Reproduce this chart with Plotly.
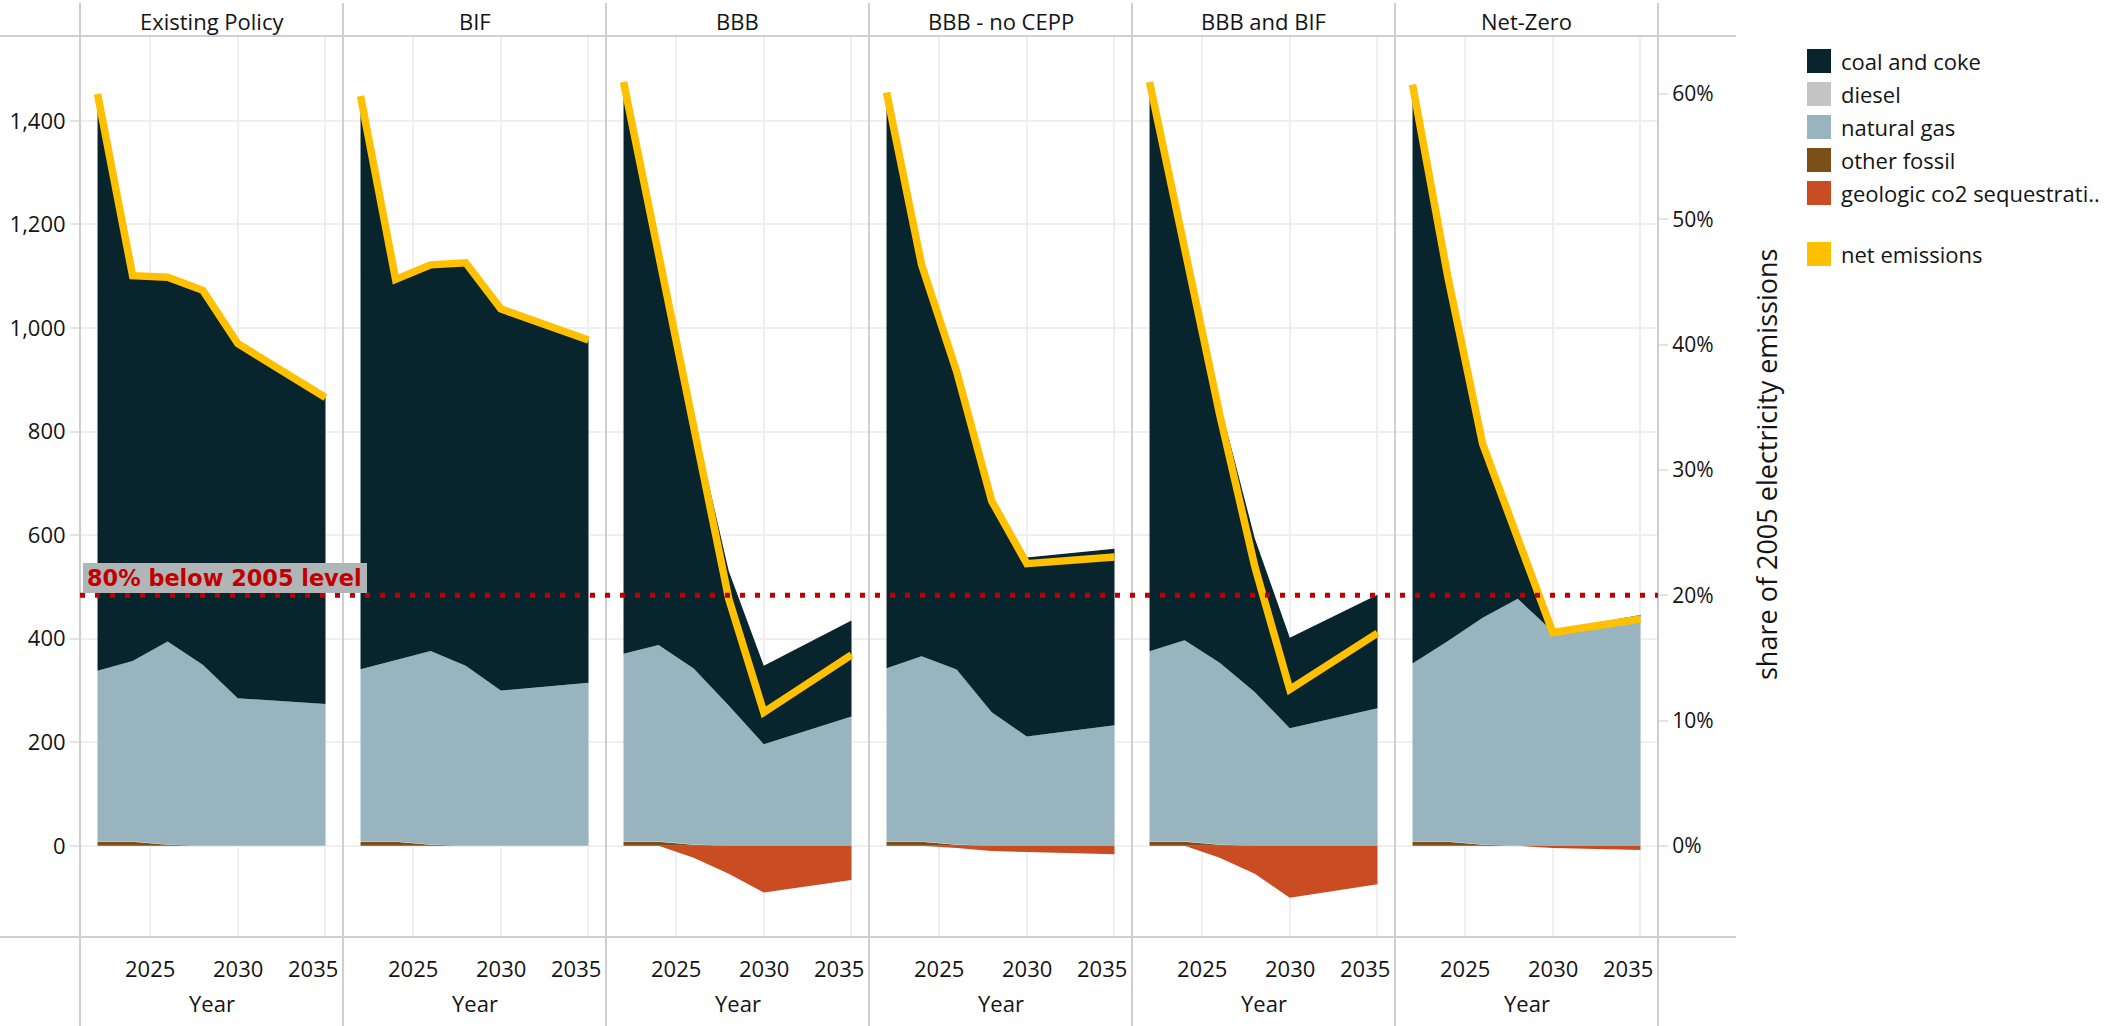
import plotly.graph_objects as go

# ---------------- data ----------------
years = [2022, 2024, 2026, 2028, 2030, 2035]
scenarios = ["Existing Policy", "BIF", "BBB", "BBB - no CEPP", "BBB and BIF", "Net-Zero"]

# electricity-sector CO2 emissions by fuel (million metric tons)
coal_and_coke = {
    "Existing Policy": [1114, 744, 703, 723, 685, 592],
    "BIF":             [1107, 735, 745, 778, 737, 662],
    "BBB":             [1104, 749, 482, 260, 152, 185],
    "BBB - no CEPP":   [1112, 756, 579, 418, 346, 341],
    "BBB and BIF":     [1099, 749, 502, 297, 175, 219],
    "Net-Zero":        [1118, 706, 335, 119, 2, 3],
}
diesel = {
    "Existing Policy": [1, 1, 0.5, 0, 0, 0],
    "BIF":             [1, 1, 0.5, 0, 0, 0],
    "BBB":             [1, 1, 0.5, 0, 0, 0],
    "BBB - no CEPP":   [1, 1, 0.5, 0, 0, 0],
    "BBB and BIF":     [1, 1, 0.5, 0, 0, 0],
    "Net-Zero":        [1, 1, 0.5, 0, 0, 0],
}
natural_gas = {
    "Existing Policy": [329, 348, 392, 350, 285, 274],
    "BIF":             [332, 350, 374, 348, 300, 315],
    "BBB":             [362, 379, 340, 271, 196, 250],
    "BBB - no CEPP":   [334, 357, 338, 258, 211, 233],
    "BBB and BIF":     [367, 388, 351, 297, 227, 266],
    "Net-Zero":        [343, 386, 438, 477, 414, 443],
}
other_fossil = {
    "Existing Policy": [8, 8, 2, 0, 0, 0],
    "BIF":             [8, 8, 2, 0, 0, 0],
    "BBB":             [8, 8, 2, 0, 0, 0],
    "BBB - no CEPP":   [8, 8, 2, 0, 0, 0],
    "BBB and BIF":     [8, 8, 2, 0, 0, 0],
    "Net-Zero":        [8, 8, 2, 0, 0, 0],
}
geologic_sequestration = {
    "Existing Policy": [0, 0, 0, 0, 0, 0],
    "BIF":             [0, 0, 0, 0, 0, 0],
    "BBB":             [0, 0, -23, -54, -90, -66],
    "BBB - no CEPP":   [0, 0, -4, -10, -12, -16],
    "BBB and BIF":     [0, 0, -23, -54, -100, -74],
    "Net-Zero":        [0, 0, 0, 0, -4, -8],
}
net_emissions = {
    "Existing Policy": [1452, 1101, 1098, 1073, 970, 866],
    "BIF":             [1448, 1094, 1122, 1126, 1037, 977],
    "BBB":             [1475, 1137, 802, 477, 258, 369],
    "BBB - no CEPP":   [1455, 1122, 916, 666, 545, 558],
    "BBB and BIF":     [1475, 1146, 833, 540, 302, 411],
    "Net-Zero":        [1470, 1101, 776, 596, 412, 438],
}

level_2005 = 2420                 # 2005 electricity emissions
target_share = 0.20               # 80% below 2005 level
left_ticks = [0, 200, 400, 600, 800, 1000, 1200, 1400]
right_ticks = [0, 0.1, 0.2, 0.3, 0.4, 0.5, 0.6]
year_ticks = [2025, 2030, 2035]

legend_items = [
    ("coal and coke", "#08242C"),
    ("diesel", "#C4C4C4"),
    ("natural gas", "#97B4BF"),
    ("other fossil", "#7B4F17"),
    ("geologic co2 sequestrati..", "#C94C23"),
    ("net emissions", "#FFC000"),
]
colors = dict(legend_items)

# ---------------- layout helpers ----------------
W, H = 2116, 1026
FONT = "Open Sans, Noto Sans, sans-serif"
TEXT = "#141414"
LINE = "#cfcfcf"
GRID = "#efefef"

def px(x):
    return x / W

def py(y):
    return 1 - y / H

panel_left, panel_w = 80, 263
plot_top, plot_bottom = 36, 937
y_range = [-176, 1564]
x_range = [2021.0, 2036.0]

fig = go.Figure()

for i, sc in enumerate(scenarios):
    xa = "x" if i == 0 else f"x{i + 1}"
    ya = "y" if i == 0 else f"y{i + 1}"
    pos = f"pos{i}"
    stack = [
        ("other fossil", other_fossil[sc]),
        ("diesel", diesel[sc]),
        ("natural gas", natural_gas[sc]),
        ("coal and coke", coal_and_coke[sc]),
    ]
    for name, vals in stack:
        fig.add_trace(go.Scatter(
            x=years, y=vals, name=name, stackgroup=pos, mode="lines",
            line=dict(width=0, color=colors[name]), fillcolor=colors[name],
            xaxis=xa, yaxis=ya, showlegend=False))
    fig.add_trace(go.Scatter(
        x=years, y=geologic_sequestration[sc], name="geologic co2 sequestration",
        stackgroup=f"neg{i}", mode="lines",
        line=dict(width=0, color=colors["geologic co2 sequestrati.."]),
        fillcolor=colors["geologic co2 sequestrati.."],
        xaxis=xa, yaxis=ya, showlegend=False))
    fig.add_trace(go.Scatter(
        x=years, y=net_emissions[sc], name="net emissions", mode="lines",
        line=dict(width=7.5, color=colors["net emissions"]),
        xaxis=xa, yaxis=ya, showlegend=False))

layout = dict(
    width=W, height=H, margin=dict(l=0, r=0, t=0, b=0),
    paper_bgcolor="white", plot_bgcolor="white",
    font=dict(family=FONT, size=22, color=TEXT),
    showlegend=False,
)

ydom = [py(plot_bottom), py(plot_top)]
for i in range(len(scenarios)):
    sfx = "" if i == 0 else str(i + 1)
    x0 = panel_left + panel_w * i
    layout[f"xaxis{sfx}"] = dict(
        domain=[px(x0), px(x0 + panel_w)], range=x_range, anchor=f"y{sfx}",
        tickvals=year_ticks, showticklabels=False, ticks="",
        showgrid=True, gridcolor=GRID, gridwidth=1.5, zeroline=False, showline=False,
    )
    layout[f"yaxis{sfx}"] = dict(
        domain=ydom, range=y_range, anchor=f"x{sfx}",
        tickvals=left_ticks, tickformat=",d", showticklabels=(i == 0),
        ticks="outside" if i == 0 else "", ticklen=9, tickcolor="#e3e3e3", tickwidth=2,
        tickfont=dict(size=22, color=TEXT),
        showgrid=True, gridcolor=GRID, gridwidth=1.5, zeroline=False, showline=False,
    )

# percentage-of-2005 axis on the right
layout["yaxis7"] = dict(
    overlaying="y6", anchor="x6", side="right",
    range=[y_range[0] / level_2005, y_range[1] / level_2005],
    tickvals=right_ticks, tickformat=".0%", ticks="outside", ticklen=9,
    tickcolor="#e3e3e3", tickwidth=2, tickfont=dict(size=21, color=TEXT),
    showgrid=False, zeroline=False, showline=False,
)
fig.update_layout(**layout)
# empty trace so the right axis is rendered
fig.add_trace(go.Scatter(x=[None], y=[None], xaxis="x6", yaxis="y7",
                         showlegend=False, hoverinfo="skip"))

shapes = []
# frame lines: header rule and bottom rule
for yy in (plot_top, plot_bottom):
    shapes.append(dict(type="line", xref="paper", yref="paper",
                       x0=0, x1=px(1736), y0=py(yy), y1=py(yy),
                       line=dict(color=LINE, width=2)))
# panel separators
for i in range(len(scenarios) + 1):
    xx = panel_left + panel_w * i
    shapes.append(dict(type="line", xref="paper", yref="paper",
                       x0=px(xx), x1=px(xx), y0=py(3), y1=0,
                       line=dict(color=LINE, width=2)))
# zero reference line
shapes.append(dict(type="line", xref="paper", yref="y", layer="below",
                   x0=px(71), x1=px(1667), y0=0, y1=0,
                   line=dict(color="#c8c8c8", width=1.5, dash="2px,3px")))
# 80% below 2005 target line
target = target_share * level_2005
shapes.append(dict(type="line", xref="paper", yref="y", layer="above",
                   x0=px(panel_left), x1=px(panel_left + panel_w * 6),
                   y0=target, y1=target,
                   line=dict(color="#C00000", width=5, dash="5px,10px")))
# label box for the target line
shapes.append(dict(type="rect", xref="paper", yref="paper", layer="above",
                   x0=px(83), x1=px(367), y0=py(593), y1=py(563),
                   fillcolor="#B0B6B8", line=dict(width=0)))

annotations = []
annotations.append(dict(
    text="<b>80% below 2005 level</b>", xref="paper", yref="paper",
    x=px(85), y=py(578), xanchor="left", yanchor="middle", showarrow=False,
    font=dict(family="DejaVu Sans, sans-serif", size=22.4, color="#C00000")))

for i, sc in enumerate(scenarios):
    cx = panel_left + panel_w * (i + 0.5)
    annotations.append(dict(text=sc, xref="paper", yref="paper", x=px(cx), y=py(21),
                            xanchor="center", yanchor="middle", showarrow=False,
                            font=dict(size=22, color=TEXT)))
    annotations.append(dict(text="Year", xref="paper", yref="paper", x=px(cx), y=py(1003),
                            xanchor="center", yanchor="middle", showarrow=False,
                            font=dict(size=22, color=TEXT)))
    xa = "x" if i == 0 else f"x{i + 1}"
    for yr in year_ticks:
        annotations.append(dict(text=str(yr), xref=xa, yref="paper", x=yr, y=py(968),
                                xanchor="center", yanchor="middle", showarrow=False,
                                xshift=-12 if yr == year_ticks[-1] else 0,
                                font=dict(size=22, color=TEXT)))

annotations.append(dict(text="share of 2005 electricity emissions", xref="paper", yref="paper",
                        x=px(1766), y=py(465), textangle=-90, xanchor="center",
                        yanchor="middle", showarrow=False, font=dict(size=27, color=TEXT)))

# legend
legend_rows = [61, 94, 127, 160, 193, 254]
for (label, col), yc in zip(legend_items, legend_rows):
    shapes.append(dict(type="rect", xref="paper", yref="paper",
                       x0=px(1807), x1=px(1831), y0=py(yc + 12), y1=py(yc - 12),
                       fillcolor=col, line=dict(width=0)))
    annotations.append(dict(text=label, xref="paper", yref="paper", x=px(1839), y=py(yc),
                            xanchor="left", yanchor="middle", showarrow=False,
                            font=dict(size=22, color=TEXT)))

fig.update_layout(shapes=shapes, annotations=annotations)
fig.write_html("out.html", config={"displayModeBar": False})
